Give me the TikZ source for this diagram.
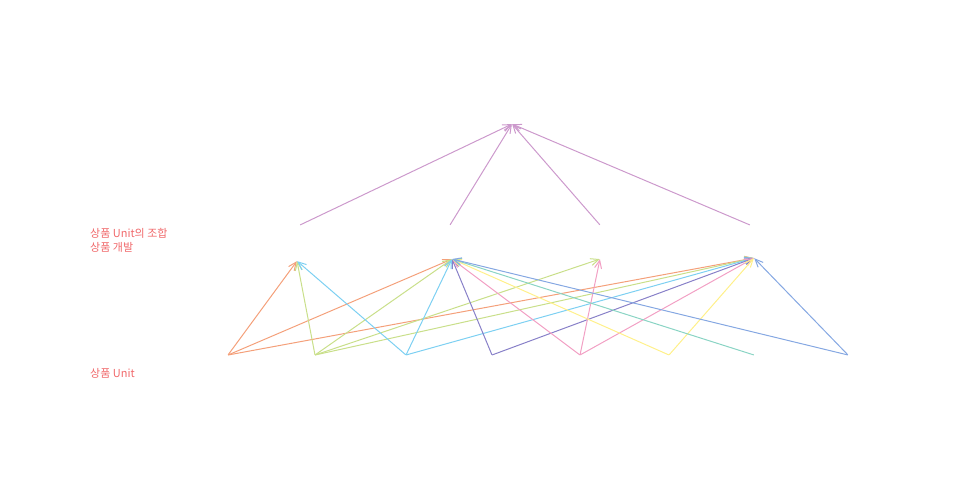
\documentclass[tikz,border=0pt]{standalone}
\usepackage{fontspec}
\newfontfamily\kr{Noto Sans CJK KR}
\usetikzlibrary{arrows.meta,positioning}
\definecolor{lbl}{HTML}{F0686A}
\definecolor{corange}{HTML}{F4A07A}
\definecolor{cgreen}{HTML}{C9DF8A}
\definecolor{csky}{HTML}{7DD0F2}
\definecolor{cindigo}{HTML}{8880C8}
\definecolor{cpink}{HTML}{F2A0C4}
\definecolor{cyellow}{HTML}{FFF08A}
\definecolor{cteal}{HTML}{8AD4C4}
\definecolor{cblue}{HTML}{86A8E2}
\definecolor{cplum}{HTML}{CC99CC}
\begin{document}
\begin{tikzpicture}[x=1pt, y=-1pt, pt/.style={inner sep=0pt,minimum size=0pt},
    link/.style={-{Straight Barb[length=8pt,width=7pt]},line width=1pt},
    lab/.style={font=\kr\fontsize{11}{13}\selectfont,text=lbl,anchor=west,inner sep=0pt}]
              \useasboundingbox (0,0) rectangle (960,477);
              \node[pt] (t) at (512,124) {};

              \node[pt] (s1) at (300,225) {};
              \node[pt] (s2) at (450,225) {};
              \node[pt] (s3) at (600,225) {};
              \node[pt] (s4) at (750,225) {};

              \node[pt] (c1) at (297,261) {};
              \node[pt] (c2) at (452,259) {};
              \node[pt] (c3) at (600,259) {};
              \node[pt] (c4) at (754,258) {};

              \node[pt] (u1) at (228,355) {};
              \node[pt] (u2) at (315,355) {};
              \node[pt] (u3) at (406,355) {};
              \node[pt] (u4) at (492,355) {};
              \node[pt] (u5) at (580,355) {};
              \node[pt] (u6) at (669,355) {};
              \node[pt] (u7) at (754,355) {};
              \node[pt] (u8) at (848,355) {};

              \foreach \s in {s1,s2,s3,s4}
                \draw[link,cplum] (\s) -- (t);

              \draw[link,corange] (u1) -- (c1);
              \draw[link,corange] (u1) -- (c2);
              \draw[link,corange] (u1) -- (c4);
              \draw[link,cgreen] (u2) -- (c1);
              \draw[link,cgreen] (u2) -- (c2);
              \draw[link,cgreen] (u2) -- (c3);
              \draw[link,cgreen] (u2) -- (c4);
              \draw[link,csky] (u3) -- (c1);
              \draw[link,csky] (u3) -- (c2);
              \draw[link,csky] (u3) -- (c4);
              \draw[link,cindigo] (u4) -- (c2);
              \draw[link,cindigo] (u4) -- (c4);
              \draw[link,cpink] (u5) -- (c2);
              \draw[link,cpink] (u5) -- (c3);
              \draw[link,cpink] (u5) -- (c4);
              \draw[link,cyellow] (u6) -- (c2);
              \draw[link,cyellow] (u6) -- (c4);
              \draw[link,cteal] (u7) -- (c2);
              \draw[link,cblue] (u8) -- (c2);
              \draw[link,cblue] (u8) -- (c4);

              \node[lab] (combo) at (90,233) {상품 Unit의 조합};
              \node[lab,below=4pt of combo.south west,anchor=north west] (dev) {상품 개발};
              \node[lab] (unit) at (90,373) {상품 Unit};
\end{tikzpicture}
\end{document}
